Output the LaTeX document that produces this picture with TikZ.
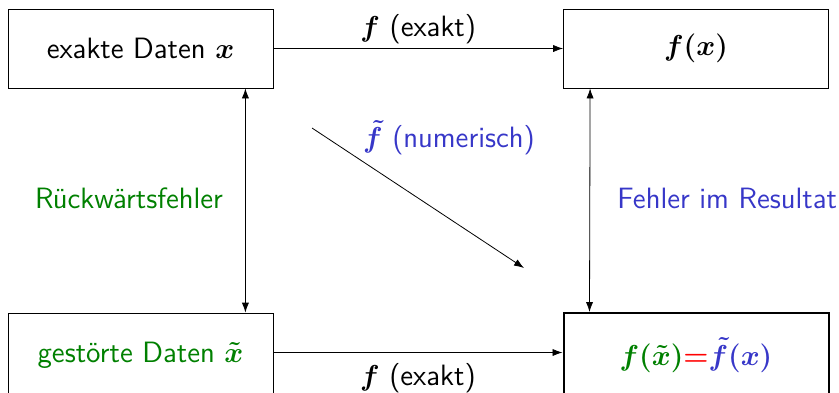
\documentclass[tikz,border=0pt]{standalone}
\usepackage{amsmath}
\usepackage{bm}
\usepackage{tikz}
\usetikzlibrary{
  arrows.meta,
  positioning
}
\renewcommand{\familydefault}{\sfdefault}
\definecolor{fehlergreen}{RGB}{0,128,0}
\definecolor{fehlerblue}{RGB}{55,55,200}
\tikzset{>={Latex[length=5pt,width=3.6pt]}}
\tikzset{
  datenbox/.style={draw,minimum width=132.5pt,minimum height=39.5pt,inner sep=0pt},
  every node/.append style={font=\fontsize{14.7}{17.5}\selectfont}
}
\begin{document}
\begin{tikzpicture}[x=0.5pt,y=-0.5pt]
  \useasboundingbox (0,0) rectangle (839,392);
  % boxes
  \node[datenbox] (exakt) at (140.5,48.5) {exakte Daten $\bm{x}$};
  \node[datenbox] (fx) at (696,48.5) {$\bm{f(x)}$};
  \node[datenbox,minimum height=42pt,text=fehlergreen] (gestoert) at (140.5,355) {gest\"orte Daten $\bm{\tilde{x}}$};
  \node[datenbox,minimum height=42pt,line width=1pt] (fxtilde) at (696,355)
    {{\color{fehlergreen}$\bm{f(\tilde{x})}$}{\color{red}$\bm{=}$}{\color{fehlerblue}$\bm{\tilde{f}(x)}$}};
  % horizontal arrows
  \draw[->] (exakt) -- node[above=-1pt] (fexakt) {$\bm{f}$ (exakt)} (fx);
  \draw[->] ([yshift=1.25pt]gestoert.east) -- node[below=2pt] (fexaktunten) {$\bm{f}$ (exakt)} ([yshift=1.25pt]fxtilde.west);
  % vertical arrows
  \draw[<->] ([xshift=-14pt]exakt.south east) -- ([xshift=-14pt]gestoert.north east);
  \draw[<->] ([xshift=13.5pt]fx.south west) -- ([xshift=13.5pt]fxtilde.north west);
  \node[text=fehlergreen] (rueck) at (129,198) {R\"uckw\"artsfehler};
  \node[text=fehlerblue,anchor=west,inner sep=0pt] (resultat) at (617,198) {Fehler im Resultat};
  % diagonal arrow
  \coordinate (numstart) at (312,128);
  \coordinate (numend) at (524,268);
  \draw[->] (numstart) -- (numend);
  \node[text=fehlerblue] (numerisch) at (449,138) {$\bm{\tilde{f}}$ (numerisch)};
\end{tikzpicture}
\end{document}
